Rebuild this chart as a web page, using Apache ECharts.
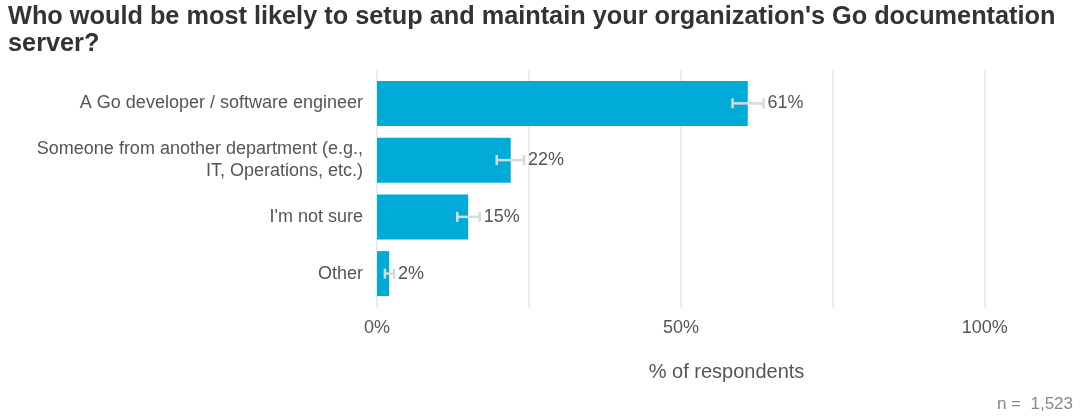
<!DOCTYPE html>
<html>
<head>
<meta charset="utf-8">
<script src="https://cdn.jsdelivr.net/npm/echarts@6/dist/echarts.min.js"></script>
<style>
html,body{margin:0;padding:0;background:#fff;}
#c{width:1080px;height:416px;}
</style>
</head>
<body>
<div id="c"></div>
<script>
var titleText = "Who would be most likely to setup and maintain your organization's Go documentation\nserver?";
var categories = [
  'A Go developer / software engineer',
  'Someone from another department (e.g.,\nIT, Operations, etc.)',
  "I'm not sure",
  'Other'
];
var values = [61, 22, 15, 2];
var errLow = [58.5, 19.7, 13.2, 1.3];
var errHigh = [63.6, 24.2, 16.9, 2.8];
var valueLabels = ['61%', '22%', '15%', '2%'];
var xTicks = [0, 50, 100];
var xAxisName = '% of respondents';
var nText = 'n =  1,523';

var FONT = '"Liberation Sans", Arial, Helvetica, sans-serif';
var chart = echarts.init(document.getElementById('c'), null, {renderer: 'canvas'});

var errData = categories.map(function (c, i) { return [errLow[i], errHigh[i], i, valueLabels[i]]; });

chart.setOption({
  animation: false,
  backgroundColor: '#fff',
  textStyle: {fontFamily: FONT},
  title: [{
    text: titleText,
    left: 8, top: 4, padding: 0,
    textStyle: {fontFamily: FONT, fontSize: 25.3, fontWeight: 'bold', color: '#333', lineHeight: 27}
  }, {
    text: nText,
    right: 7, top: 396, padding: 0,
    textStyle: {fontFamily: FONT, fontSize: 17, fontWeight: 'normal', color: '#888'}
  }],
  grid: [
    {left: 377, right: 4, top: 75, bottom: 114, containLabel: false},
    {left: 377, right: 4, top: 70, bottom: 108, containLabel: false}
  ],
  xAxis: [{
    gridIndex: 0, type: 'value', min: 0, max: 115, interval: 25,
    show: false
  }, {
    gridIndex: 1, type: 'value', min: 0, max: 115, interval: 25,
    axisLine: {show: false}, axisTick: {show: false},
    splitLine: {show: true, lineStyle: {color: ['#e6e6e6', '#e6e6e6', '#e6e6e6', '#e6e6e6', '#e6e6e6', 'rgba(0,0,0,0)'], width: 1.5}},
    axisLabel: {
      margin: 11, fontSize: 18, color: '#555', fontFamily: FONT,
      formatter: function (v) { return xTicks.indexOf(v) >= 0 ? v + '%' : ''; }
    },
    name: xAxisName, nameLocation: 'middle', nameGap: 54,
    nameTextStyle: {fontSize: 20, color: '#555', fontFamily: FONT}
  }],
  yAxis: [{
    gridIndex: 0, type: 'category', data: categories, inverse: true,
    axisLine: {show: false}, axisTick: {show: false}, splitLine: {show: false},
    axisLabel: {margin: 14, fontSize: 18, color: '#555', fontFamily: FONT, lineHeight: 22, align: 'right'}
  }, {
    gridIndex: 1, type: 'value', show: false, min: 0, max: 1
  }],
  series: [{
    type: 'bar', xAxisIndex: 0, yAxisIndex: 0,
    data: values, barWidth: 45,
    itemStyle: {color: '#00ACD7'},
    z: 2
  }, {
    type: 'custom', xAxisIndex: 0, yAxisIndex: 0,
    data: errData,
    encode: {x: [0, 1], y: 2},
    z: 3,
    renderItem: function (params, api) {
      var lo = api.coord([api.value(0), api.value(2)]);
      var hi = api.coord([api.value(1), api.value(2)]);
      var y = lo[1];
      var cap = 5;
      var ls = {stroke: '#d9d9d9', lineWidth: 2.5};
      return {
        type: 'group',
        children: [
          {type: 'line', shape: {x1: lo[0], y1: y, x2: hi[0], y2: y}, style: ls},
          {type: 'line', shape: {x1: lo[0], y1: y - cap, x2: lo[0], y2: y + cap}, style: ls},
          {type: 'line', shape: {x1: hi[0], y1: y - cap, x2: hi[0], y2: y + cap}, style: ls},
          {type: 'text', style: {
            text: valueLabels[params.dataIndex], x: hi[0] + 4, y: y,
            fill: '#555', font: '18px ' + FONT,
            align: 'left', verticalAlign: 'middle'
          }}
        ]
      };
    }
  }]
});
</script>
</body>
</html>
